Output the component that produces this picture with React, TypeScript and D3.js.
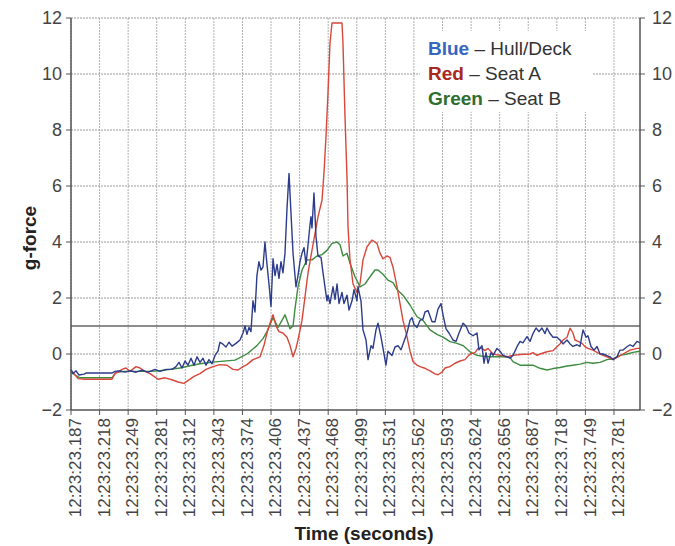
import React from "react";
import * as d3 from "d3";

// time = milliseconds after 12:23:23, value = g-force
const tickTimes = [187.5, 218.75, 250, 281.25, 312.5, 343.75, 375, 406.25, 437.5, 468.75, 500, 531.25, 562.5, 593.75, 625, 656.25, 687.5, 718.75, 750, 781.25];
const tickLabels = ["12:23:23.187", "12:23:23.218", "12:23:23.249", "12:23:23.281", "12:23:23.312", "12:23:23.343", "12:23:23.374", "12:23:23.406", "12:23:23.437", "12:23:23.468", "12:23:23.499", "12:23:23.531", "12:23:23.562", "12:23:23.593", "12:23:23.624", "12:23:23.656", "12:23:23.687", "12:23:23.718", "12:23:23.749", "12:23:23.781"];
const yTicks = [-2, 0, 2, 4, 6, 8, 10, 12];
const gridY = [0, 2, 4, 6, 8, 10, 12];
const refLine = 1;

const hullDeck: [number, number][] = [
  [187.5, -0.55], [189.7, -0.7], [193.0, -0.6], [196.2, -0.75], [201.7, -0.72], [203.9, -0.68], [232.3, -0.68], [235.6, -0.62],
  [241.1, -0.6], [246.6, -0.65], [252.0, -0.6], [258.6, -0.65], [265.1, -0.58], [271.7, -0.65], [279.4, -0.55], [284.8, -0.62],
  [291.4, -0.55], [297.9, -0.55], [302.3, -0.45], [305.6, -0.3], [308.9, -0.5], [312.2, -0.25], [315.4, -0.4], [318.7, -0.15],
  [322.0, -0.4], [325.3, -0.1], [328.6, -0.3], [331.8, -0.15], [335.1, -0.4], [338.4, -0.2], [341.7, -0.35], [345.0, -0.05],
  [348.2, 0.1], [350.4, 0.42], [353.7, 0.35], [357.0, 0.25], [360.3, 0.42], [363.6, 0.28], [367.9, 0.38], [372.3, 0.5],
  [375.6, 0.75], [377.8, 1.0], [379.9, 0.7], [382.1, 0.95], [384.3, 0.8], [386.5, 1.9], [388.7, 1.5], [390.8, 2.8],
  [393.0, 3.3], [395.2, 3.0], [397.4, 3.1], [399.6, 4.0], [401.8, 3.2], [404.0, 2.5], [406.2, 1.7], [408.4, 3.4],
  [410.6, 2.8], [412.8, 3.2], [414.9, 2.7], [417.1, 3.3], [419.3, 2.9], [421.5, 3.6], [423.7, 5.2], [425.9, 6.45],
  [428.1, 5.0], [430.3, 3.6], [433.5, 2.4], [435.7, 2.8], [437.9, 3.3], [440.1, 3.6], [442.3, 3.8], [444.5, 3.2],
  [446.7, 3.9], [448.8, 4.6], [449.9, 4.9], [451.0, 4.5], [453.2, 5.75], [455.4, 4.2], [457.6, 3.5], [460.9, 3.45],
  [463.1, 2.9], [465.2, 2.4], [467.4, 1.9], [468.5, 2.1], [470.7, 1.8], [474.0, 2.4], [476.2, 1.95], [478.4, 2.5],
  [480.6, 1.8], [483.8, 2.2], [486.0, 1.8], [489.3, 2.1], [491.5, 1.57], [494.8, 1.9], [497.0, 2.3], [500.2, 1.9],
  [501.3, 2.4], [504.6, 1.9], [506.8, 0.86], [510.1, 0.5], [512.3, -0.2], [515.6, 0.3], [517.7, 0.2], [521.0, 0.86],
  [523.2, 1.1], [526.5, 0.6], [528.7, 0.2], [531.9, -0.4], [534.1, 0.1], [538.5, -0.05], [541.8, 0.25], [545.1, 0.3],
  [548.4, 0.15], [551.6, 0.45], [554.9, 0.75], [558.2, 1.2], [560.4, 1.3], [562.6, 1.05], [565.9, 0.95], [569.1, 1.2],
  [572.4, 1.25], [574.6, 1.5], [577.9, 1.55], [582.3, 1.15], [585.5, 1.15], [588.8, 1.6], [592.1, 1.8], [594.3, 1.4],
  [597.6, 0.9], [600.8, 0.75], [605.2, 0.5], [608.5, 0.45], [611.8, 0.75], [616.2, 1.1], [619.4, 1.0], [622.7, 0.75],
  [627.1, 0.65], [631.5, 0.75], [633.6, 0.15], [636.9, 0.3], [639.1, -0.33], [641.3, 0.05], [643.5, -0.33], [646.8, 0.05],
  [649.0, -0.05], [653.3, 0.2], [656.6, 0.1], [659.9, -0.05], [664.3, -0.1], [667.5, -0.15], [670.8, -0.05], [675.2, 0.26],
  [678.5, 0.45], [681.7, 0.4], [686.1, 0.62], [689.4, 0.45], [692.7, 0.73], [696.0, 0.93], [699.3, 0.8], [702.5, 0.93],
  [705.8, 0.73], [708.0, 0.93], [711.3, 0.73], [714.6, 0.6], [718.9, 0.6], [722.2, 0.5], [725.5, 0.36], [729.9, 0.5],
  [733.2, 0.36], [736.4, 0.27], [740.8, 0.33], [744.1, 0.27], [747.4, 0.86], [750.7, 0.6], [752.8, 0.65], [756.1, 0.27],
  [759.4, 0.14], [762.7, 0.27], [766.0, 0.0], [769.3, 0.0], [773.6, -0.06], [776.9, -0.1], [780.2, -0.2], [784.6, -0.1],
  [787.8, 0.14], [791.1, 0.14], [795.5, 0.26], [798.8, 0.33], [802.0, 0.27], [806.4, 0.45], [809.7, 0.4],
];

const seatA: [number, number][] = [
  [187.5, -0.6], [190.8, -0.7], [195.2, -0.88], [202.8, -0.9], [232.3, -0.9], [235.6, -0.7], [238.9, -0.65], [243.3, -0.55],
  [247.6, -0.5], [252.0, -0.62], [258.6, -0.45], [263.0, -0.5], [268.4, -0.62], [273.9, -0.7], [278.3, -0.8], [282.6, -0.9],
  [290.3, -0.85], [297.9, -0.92], [304.5, -1.0], [311.1, -1.05], [315.4, -0.95], [322.0, -0.8], [328.6, -0.7], [335.1, -0.55],
  [342.8, -0.45], [350.4, -0.38], [358.1, -0.4], [364.6, -0.55], [370.1, -0.57], [375.6, -0.45], [379.9, -0.38], [386.5, -0.2],
  [394.2, -0.1], [398.5, 0.3], [401.8, 0.75], [405.1, 1.1], [408.4, 1.4], [411.7, 1.0], [414.9, 0.8], [419.3, 0.75],
  [423.7, 0.6], [427.0, 0.3], [430.3, -0.1], [433.5, 0.2], [435.7, 0.5], [440.1, 1.2], [443.4, 2.05], [446.7, 2.9],
  [451.0, 3.7], [454.3, 4.3], [457.6, 4.9], [462.0, 5.5], [464.2, 6.5], [466.3, 7.76], [468.5, 9.3], [470.7, 11.1],
  [472.9, 11.82], [483.8, 11.82], [484.9, 11.1], [487.1, 8.5], [489.3, 6.3], [490.4, 4.55], [492.6, 3.36], [495.9, 2.5],
  [500.2, 2.2], [503.5, 2.5], [506.8, 3.36], [511.2, 3.83], [516.6, 4.07], [522.1, 3.95], [525.4, 3.6], [528.7, 3.4],
  [533.0, 3.5], [536.3, 3.45], [539.6, 3.1], [544.0, 2.4], [547.3, 1.8], [550.5, 1.2], [554.9, 0.62], [558.2, 0.1],
  [561.5, -0.27], [565.9, -0.4], [569.1, -0.45], [574.6, -0.51], [580.1, -0.6], [585.5, -0.71], [588.8, -0.74], [593.2, -0.65],
  [596.5, -0.5], [601.9, -0.45], [607.4, -0.33], [612.9, -0.25], [618.3, -0.2], [623.8, 0.0], [629.3, 0.05], [632.6, 0.2],
  [636.9, 0.2], [640.2, 0.12], [643.5, 0.2], [649.0, 0.0], [656.6, -0.05], [664.3, -0.1], [670.8, -0.05], [678.5, -0.02],
  [689.4, 0.0], [692.7, 0.05], [697.1, -0.05], [700.4, 0.0], [708.0, 0.08], [714.6, 0.12], [718.9, 0.26], [722.2, 0.36],
  [725.5, 0.5], [729.9, 0.6], [733.2, 0.92], [736.4, 0.75], [738.6, 0.5], [741.9, 0.45], [746.3, 0.38], [749.6, 0.26],
  [752.8, 0.2], [758.3, 0.14], [766.0, 0.0], [773.6, -0.1], [780.2, -0.2], [785.6, -0.1], [791.1, 0.0], [798.8, 0.14],
  [806.4, 0.2], [809.7, 0.2],
];

const seatB: [number, number][] = [
  [187.5, -0.65], [191.9, -0.75], [197.3, -0.85], [232.3, -0.85], [236.7, -0.65], [246.6, -0.62], [257.5, -0.62], [273.9, -0.62],
  [284.8, -0.6], [295.8, -0.55], [306.7, -0.5], [317.6, -0.42], [328.6, -0.35], [345.0, -0.28], [366.8, -0.22], [379.9, 0.0],
  [390.8, 0.3], [397.4, 0.55], [401.8, 0.8], [408.4, 1.3], [413.9, 0.95], [418.2, 1.2], [421.5, 1.4], [424.8, 1.1],
  [427.0, 0.9], [430.3, 1.0], [432.4, 1.6], [435.7, 2.4], [440.1, 3.0], [445.6, 3.36], [451.0, 3.36], [456.5, 3.5],
  [462.0, 3.55], [467.4, 3.7], [472.9, 3.95], [478.4, 4.0], [481.7, 3.9], [484.9, 3.5], [489.3, 3.6], [492.6, 3.24],
  [498.1, 2.76], [503.5, 2.4], [509.0, 2.5], [514.5, 2.76], [519.9, 3.0], [523.2, 3.0], [528.7, 2.85], [534.1, 2.64],
  [539.6, 2.55], [544.0, 2.3], [550.5, 2.1], [558.2, 1.75], [565.9, 1.33], [572.4, 1.2], [580.1, 0.86], [587.7, 0.7],
  [594.3, 0.6], [601.9, 0.44], [609.6, 0.38], [616.2, 0.3], [623.8, 0.08], [631.5, -0.05], [638.0, -0.08], [645.7, -0.1],
  [653.3, -0.1], [659.9, -0.1], [667.5, -0.12], [670.8, -0.27], [678.5, -0.4], [686.1, -0.4], [692.7, -0.4], [700.4, -0.51],
  [708.0, -0.57], [714.6, -0.52], [722.2, -0.48], [729.9, -0.43], [736.4, -0.4], [744.1, -0.36], [751.7, -0.3], [758.3, -0.33],
  [766.0, -0.3], [773.6, -0.2], [780.2, -0.17], [787.8, -0.05], [795.5, 0.0], [802.0, 0.06], [809.7, 0.1],
];

const W = 675;
const H = 546;
const L = 71, R = 640, T = 18, B = 410;
const font = "'Liberation Sans', Arial, sans-serif";

export default function App() {
  const x = d3.scaleLinear().domain([187.5, 809.7]).range([L, R]);
  const y = d3.scaleLinear().domain([-2, 12]).range([B, T]);
  const line = d3
    .line<[number, number]>()
    .x((d) => x(d[0]))
    .y((d) => y(d[1]));

  return (
    <div style={{ position: "absolute", left: 0, top: 0 }}>
      <svg width={W} height={H} style={{ display: "block", background: "#fff" }} fontFamily={font}>
        {/* grid */}
        {tickTimes.map((t, i) => (
          <line key={"vg" + i} x1={x(t)} x2={x(t)} y1={T} y2={B} stroke="#b0b0b0" strokeDasharray="2,1" />
        ))}
        {gridY.map((v) => (
          <line key={"hg" + v} x1={L} x2={R} y1={y(v)} y2={y(v)} stroke="#999" strokeDasharray="2,1" />
        ))}
        {/* legend backdrop */}
        <rect x={420} y={31} width={173} height={81} fill="#fff" />
        <line x1={L} x2={R} y1={y(refLine)} y2={y(refLine)} stroke="#666" strokeWidth={1.3} />

        {/* series */}
        <path d={line(seatB) || ""} fill="none" stroke="#3c8c3e" strokeWidth={1.4} strokeLinejoin="round" />
        <path d={line(seatA) || ""} fill="none" stroke="#d8473a" strokeWidth={1.4} strokeLinejoin="round" />
        <path d={line(hullDeck) || ""} fill="none" stroke="#2c3c8c" strokeWidth={1.4} strokeLinejoin="round" />

        {/* axes */}
        <line x1={L} x2={L} y1={T} y2={B} stroke="#555" strokeWidth={1.5} />
        <line x1={R} x2={R} y1={T} y2={B} stroke="#555" strokeWidth={1.5} />
        <line x1={L} x2={R} y1={B} y2={B} stroke="#555" strokeWidth={1.5} />
        {yTicks.map((v) => (
          <g key={"yt" + v} fill="#444" fontSize={18}>
            <line x1={L - 5} x2={L} y1={y(v)} y2={y(v)} stroke="#555" />
            <line x1={R} x2={R + 5} y1={y(v)} y2={y(v)} stroke="#555" />
            <text x={L - 9} y={y(v)} dy="0.36em" textAnchor="end">
              {v < 0 ? "\u2212" + Math.abs(v) : v}
            </text>
            <text x={R + 12} y={y(v)} dy="0.36em" textAnchor="start">
              {v < 0 ? "\u2212" + Math.abs(v) : v}
            </text>
          </g>
        ))}
        {tickTimes.map((t, i) => (
          <g key={"xt" + i}>
            <line x1={x(t)} x2={x(t)} y1={B} y2={B + 5} stroke="#555" />
            <text
              transform={`translate(${x(t) + 4},${B + 8}) rotate(-90)`}
              textAnchor="end"
              dy="0.36em"
              fontSize={17}
              fill="#444"
            >
              {tickLabels[i]}
            </text>
          </g>
        ))}

        {/* titles */}
        <text transform="translate(36,238) rotate(-90)" textAnchor="middle" fontWeight="bold" fontSize={19} fill="#222">
          g-force
        </text>
        <text x={364} y={540} textAnchor="middle" fontWeight="bold" fontSize={19} fill="#222">
          Time (seconds)
        </text>

        {/* legend */}
        <g fontSize={19} fill="#333">
          <text x={428} y={55}>
            <tspan fontWeight="bold" fill="#3566c0">Blue</tspan> – Hull/Deck
          </text>
          <text x={428} y={80}>
            <tspan fontWeight="bold" fill="#a8281f">Red</tspan> – Seat A
          </text>
          <text x={428} y={105}>
            <tspan fontWeight="bold" fill="#2e6e30">Green</tspan> – Seat B
          </text>
        </g>
      </svg>
    </div>
  );
}
